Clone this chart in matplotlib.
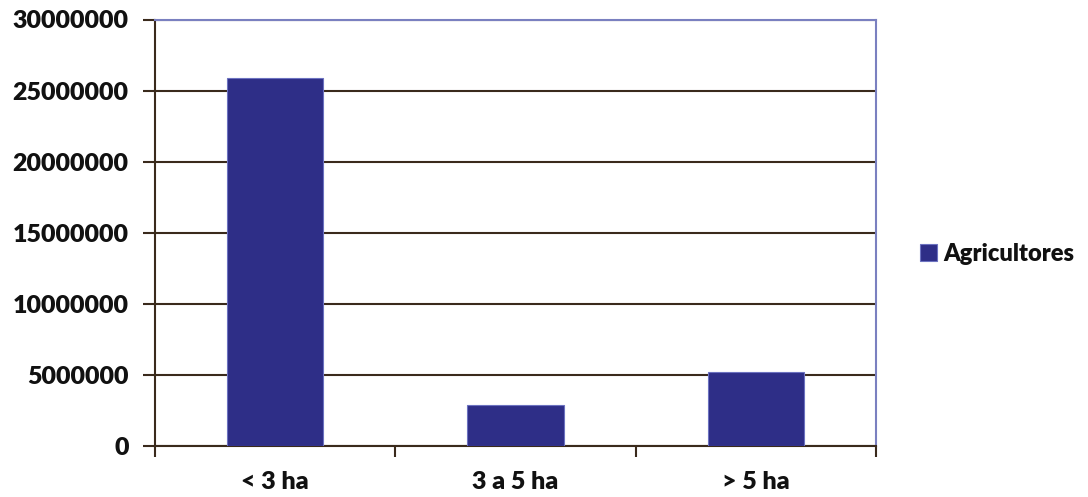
import matplotlib
matplotlib.use("Agg")
import matplotlib.pyplot as plt
import numpy as np

categories = ["< 3 ha", "3 a 5 ha", "> 5 ha"]
agricultores = [25900000, 2900000, 5200000]
yticks = [0, 5000000, 10000000, 15000000, 20000000, 25000000, 30000000]
series_name = "Agricultores"

plt.rcParams['font.family'] = ['Lato', 'DejaVu Sans']
plt.rcParams['font.weight'] = 'heavy'
FS = 18

fig = plt.figure(figsize=(10.88, 4.97), dpi=100)
ax = fig.add_axes([155/1088, 1-446/497, (876-155)/1088, (446-19.5)/497])

brown = "#3a2a1c"
blue_frame = "#7a80c0"
bar_color = "#2e2e87"

x = np.arange(len(categories))
ax.bar(x, agricultores, width=0.4, color=bar_color, edgecolor="#6c72c0", linewidth=0.8,
       label=series_name, zorder=3)

ax.set_xlim(-0.5, len(categories) - 0.5)
ax.set_ylim(0, 30000000)
ax.set_yticks(yticks)
ax.set_yticklabels([str(v) for v in yticks], fontsize=FS, fontweight='heavy', color="#111111")
ax.yaxis.grid(True, color=brown, linewidth=1.5, zorder=1)
ax.set_axisbelow(True)

ax.set_xticks(x)
ax.set_xticklabels(categories, fontsize=FS, fontweight='heavy', color="#111111")
ax.tick_params(axis='x', length=0, pad=18)
ax.set_xticks(np.arange(len(categories) + 1) - 0.5, minor=True)
ax.tick_params(axis='x', which='minor', length=8, width=1.5, color=brown, direction='out')
ax.tick_params(axis='y', length=9, width=1.5, color=brown, direction='out', pad=10)

for s in ['left', 'bottom']:
    ax.spines[s].set_color(brown)
    ax.spines[s].set_linewidth(1.5)
for s in ['top', 'right']:
    ax.spines[s].set_color(blue_frame)
    ax.spines[s].set_linewidth(1.5)

leg = fig.legend(loc='center left', bbox_to_anchor=(920/1088, 1-254/497), frameon=False,
                 borderpad=0, borderaxespad=0,
                 handlelength=0.7, handleheight=0.7, handletextpad=0.3,
                 prop={'weight': 'heavy', 'size': 17})
for t in leg.get_texts():
    t.set_color("#111111")

fig.savefig("out.png", dpi=100)
